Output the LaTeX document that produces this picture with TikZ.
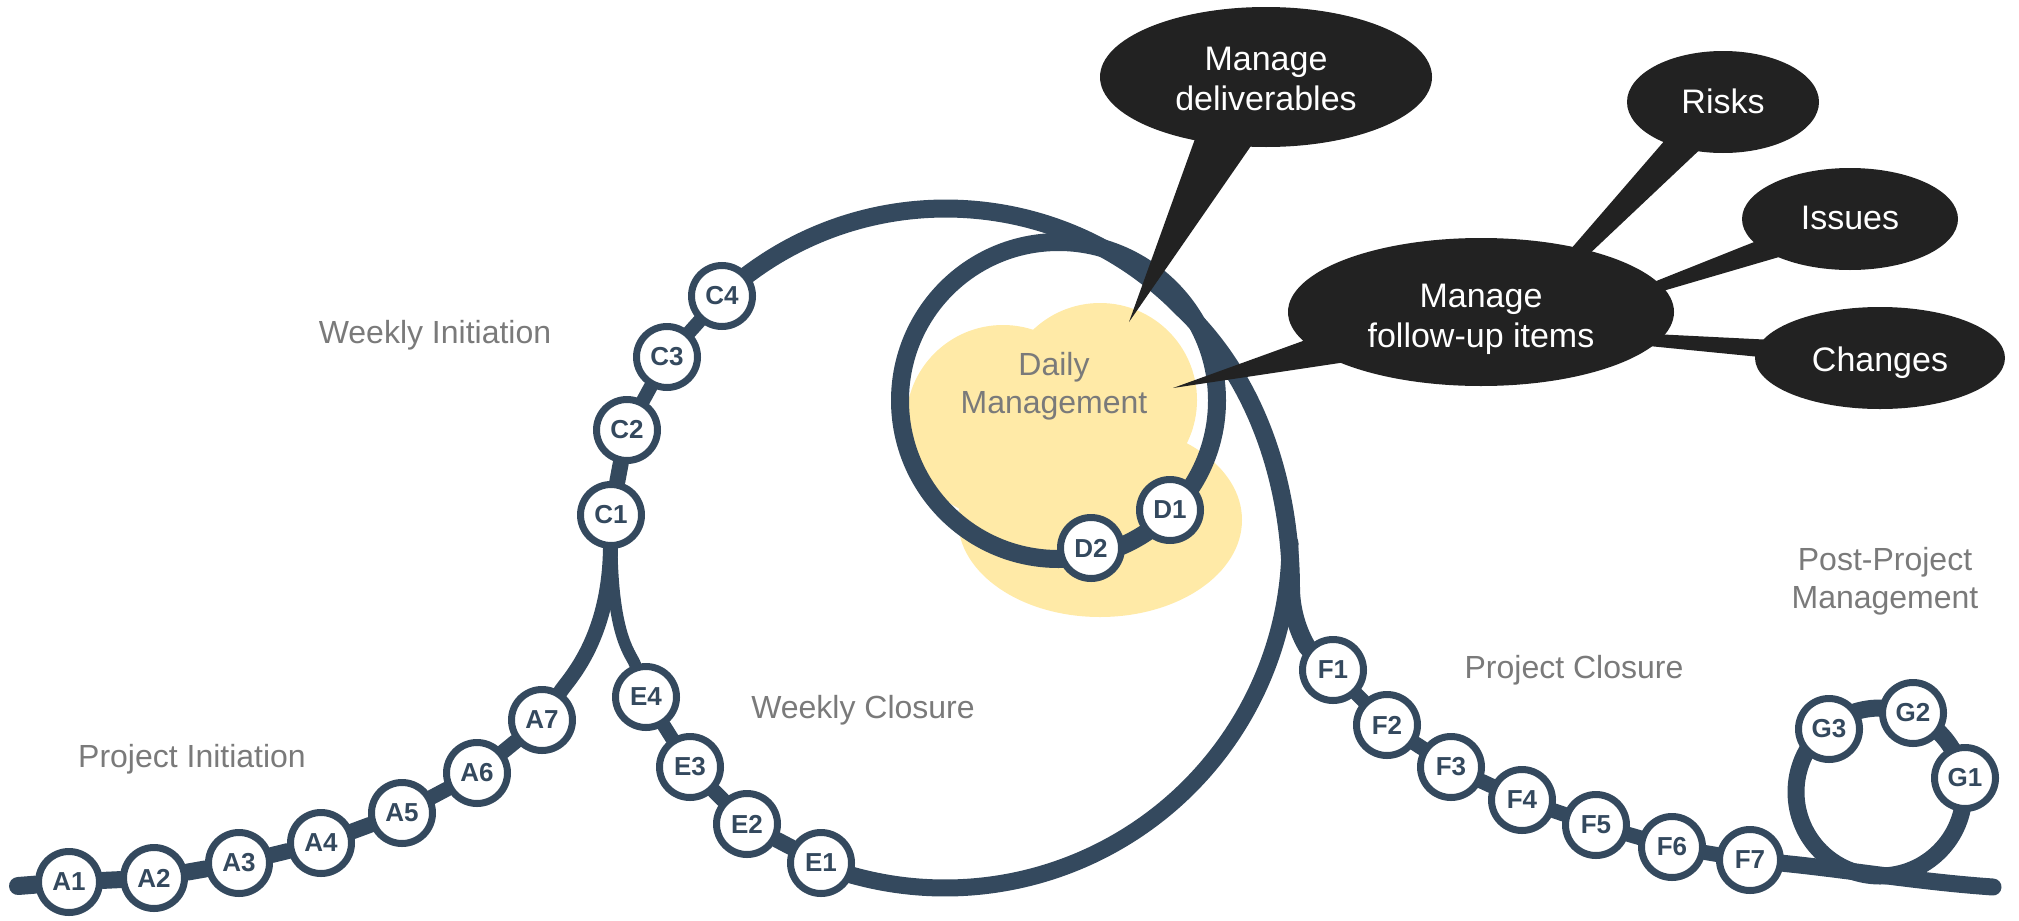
\documentclass[tikz,border=0pt]{standalone}
\usepackage{fontspec}
\setmainfont{Liberation Sans}
\usetikzlibrary{shapes.geometric,calc}
\definecolor{tubeblue}{HTML}{34495E}
\definecolor{labelgray}{HTML}{7A7A7A}
\definecolor{cloudyellow}{HTML}{FFEAA7}
\definecolor{bubblegray}{HTML}{222222}
\pgfdeclarelayer{cloudlayer}
\pgfdeclarelayer{tubelayer}
\pgfdeclarelayer{wedgelayer}
\pgfsetlayers{cloudlayer,tubelayer,wedgelayer,main}
\newcommand{\lowertext}[2]{\raisebox{-#1}[\height][\depth]{\begin{tabular}{@{}c@{}}#2\end{tabular}}}
\begin{document}
\begin{tikzpicture}[x=1pt,y=-1pt,
  stn/.style={circle,draw=tubeblue,line width=7pt,fill=white,minimum size=61pt,inner sep=0pt,text=tubeblue,font=\fontsize{26}{26}\selectfont\bfseries},
  lbl/.style={text=labelgray,font=\fontsize{32}{38}\selectfont,align=center,inner sep=0pt},
  bubble/.style={ellipse,fill=bubblegray,text=white,font=\fontsize{34}{40}\selectfont,inner sep=0pt},
  tube/.style={draw=tubeblue,line cap=round,line join=round}]
\useasboundingbox (0,0) rectangle (2019,921);

% step nodes
\node[stn] (A1) at (69,882) {A1};
\node[stn] (A2) at (154,878) {A2};
\node[stn] (A3) at (239,863) {A3};
\node[stn] (A4) at (321,843) {A4};
\node[stn] (A5) at (402,813) {A5};
\node[stn] (A6) at (477,773) {A6};
\node[stn] (A7) at (542,720) {A7};
\node[stn] (C1) at (611,515) {C1};
\node[stn] (C2) at (627,430) {C2};
\node[stn] (C3) at (667,357) {C3};
\node[stn] (C4) at (722,296) {C4};
\node[stn] (D1) at (1170,510) {D1};
\node[stn] (D2) at (1091,548) {D2};
\node[stn] (E1) at (821,863) {E1};
\node[stn] (E2) at (747,824) {E2};
\node[stn] (E3) at (690,767) {E3};
\node[stn] (E4) at (646,697) {E4};
\node[stn] (F1) at (1333,670) {F1};
\node[stn] (F2) at (1387,725) {F2};
\node[stn] (F3) at (1451,767) {F3};
\node[stn] (F4) at (1522,800) {F4};
\node[stn] (F5) at (1596,825) {F5};
\node[stn] (F6) at (1672,847) {F6};
\node[stn] (F7) at (1750,860) {F7};
\node[stn] (G1) at (1965,778) {G1};
\node[stn] (G2) at (1913,713) {G2};
\node[stn] (G3) at (1829,729) {G3};

\coordinate (start) at (18,886);
\coordinate (finish) at (1993,887);
\coordinate (dayc) at (1058.5,400.5);
\coordinate (postc) at (1880,792);
\coordinate (loopc) at (945,543);

% bubbles
\node[bubble,minimum width=332pt,minimum height=140pt] (deliv) at (1266,77) {\lowertext{5pt}{Manage\\deliverables}};
\node[bubble,minimum width=386pt,minimum height=148pt] (fu) at (1481,312) {\lowertext{7pt}{Manage\\follow-up items}};
\node[bubble,minimum width=192pt,minimum height=102pt] (risks) at (1723,102) {\lowertext{3pt}{Risks}};
\node[bubble,minimum width=216pt,minimum height=102pt] (issues) at (1850,219) {\lowertext{2pt}{Issues}};
\node[bubble,minimum width=250pt,minimum height=102pt] (changes) at (1880,358) {\lowertext{5pt}{Changes}};

% gray labels
\node[lbl,anchor=base] (wini) at (435,343) {Weekly Initiation};
\node[lbl,anchor=base] (pini) at (192,767) {Project Initiation};
\node[lbl,anchor=base] (wclo) at (863,718) {Weekly Closure};
\node[lbl,anchor=base] (pclo) at (1574,678) {Project Closure};
\node[lbl] (daily) at (1054,386) {Daily\\Management};
\node[lbl] (post) at (1885,581) {Post-Project\\Management};

% cloud
\begin{pgfonlayer}{cloudlayer}
\fill[cloudyellow] (1003,422) circle[radius=97pt] (1100,400) circle[radius=97pt]
  (1100,520) ellipse[x radius=142pt,y radius=97pt];
\end{pgfonlayer}

% tubes
\begin{pgfonlayer}{tubelayer}
\draw[tube,line width=18pt] (start) -- (A1);
\draw[tube,line width=17pt] (A1) -- (A2);
\draw[tube,line width=17pt] (A2) -- (A3);
\draw[tube,line width=16pt] (A3) -- (A4);
\draw[tube,line width=16pt] (A4) -- (A5);
\draw[tube,line width=15pt] (A5) -- (A6);
\draw[tube,line width=15pt] (A6) -- (A7);
\draw[tube,line width=15pt] (A7) .. controls (568,680) and (609,640) .. (C1);
\draw[tube,line width=12pt] (E4) .. controls (632,655) and (613,640) .. (C1);
\draw[tube,line width=16pt] (C1) -- (C2);
\draw[tube,line width=14pt] (C2) -- (C3);
\draw[tube,line width=14pt] (C3) -- (C4);
\draw[tube,line width=14pt] (E4) -- (E3);
\draw[tube,line width=15pt] (E3) -- (E2);
\draw[tube,line width=16pt] (E2) -- (E1);
% outer weekly arc, on to project closure
\draw[tube,line width=18pt] (C4.center) arc[start angle=-132.7,end angle=-44.2,radius=330]
  .. controls (1255,377) and (1291,480) .. (1291,590)
  .. controls (1292,625) and (1308,648) .. (F1);
% big loop bottom, back to weekly closure
\draw[tube,line width=17pt] ($(loopc)+(0:345)$) arc[start angle=0,end angle=111.2,radius=345];
% daily loop
\draw[tube,line width=18pt] (dayc) circle[radius=158.5];
% closure chain
\draw[tube,line width=14pt] (F1) -- (F2);
\draw[tube,line width=15pt] (F2) -- (F3);
\draw[tube,line width=15pt] (F3) -- (F4);
\draw[tube,line width=15pt] (F4) -- (F5);
\draw[tube,line width=15pt] (F5) -- (F6);
\draw[tube,line width=15pt] (F6) -- (F7);
\draw[tube,line width=17pt] (F7) .. controls (1850,870) and (1920,882) .. (finish);
\draw[tube,line width=17pt] (postc) circle[radius=84];
\end{pgfonlayer}

% callout tails and links
\begin{pgfonlayer}{wedgelayer}
\fill[bubblegray] (1200,125) -- (1129,322) -- (1262,130) -- cycle;
\fill[bubblegray] (1325,333) -- (1173,388) -- (1373,358) -- cycle;
\fill[bubblegray] (1557,265) -- (1685,117) -- (1709,141) -- (1567,275) -- cycle;
\fill[bubblegray] (1637.4,288.5) -- (1783,230.5) -- (1791,253.5) -- (1640.6,297.5) -- cycle;
\fill[bubblegray] (1637.4,333.2) -- (1785.7,340.6) -- (1784.3,359.4) -- (1636.6,344.8) -- cycle;
\end{pgfonlayer}
\end{tikzpicture}
\end{document}
